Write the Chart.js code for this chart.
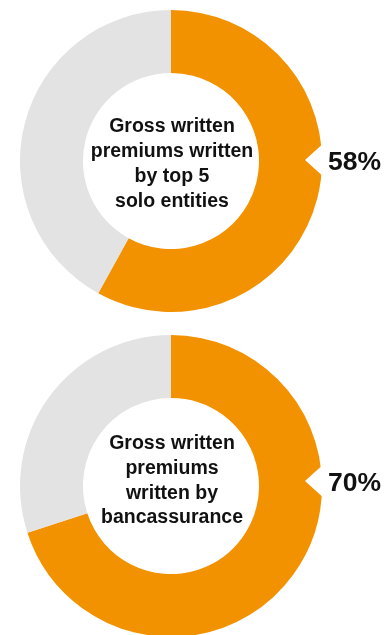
<!DOCTYPE html>
<html>
<head>
<meta charset="utf-8">
<script src="https://cdn.jsdelivr.net/npm/chart.js@4/dist/chart.umd.min.js"></script>
<style>
  html, body { margin: 0; padding: 0; background: #ffffff; width: 385px; height: 635px; overflow: hidden; }
  .wrap { position: absolute; left: 0; width: 385px; }
  #wrapTop { top: 0; height: 320px; }
  #wrapBottom { top: 320px; height: 330px; }
</style>
</head>
<body>
<div class="wrap" id="wrapTop"><canvas id="chartTop" width="385" height="320"></canvas></div>
<div class="wrap" id="wrapBottom"><canvas id="chartBottom" width="385" height="330"></canvas></div>
<script>
// Shares of gross written premiums
const segmentLabels = ['Share', 'Remainder'];
const topValues = [58, 42];
const topCaption = ['Gross written', 'premiums written', 'by top 5', 'solo entities'];
const bottomValues = [70, 30];
const bottomCaption = ['Gross written', 'premiums', 'written by', 'bancassurance'];
const segmentColors = ['#F39200', '#E3E3E3'];

const FONT = '"Liberation Sans", Arial, Helvetica, sans-serif';

// Caption inside the hole, a notch cut into the ring and the percentage beside it
const donutNotes = {
  id: 'donutNotes',
  afterDraw(chart, args, opts) {
    const arc = chart.getDatasetMeta(0).data[0];
    if (!arc) return;
    const { x, y, outerRadius } = arc;
    const ctx = chart.ctx;
    ctx.save();

    // caption lines
    ctx.fillStyle = '#111111';
    ctx.font = 'bold 19.5px ' + FONT;
    ctx.textAlign = 'center';
    ctx.textBaseline = 'alphabetic';
    const lines = opts.lines || [];
    lines.forEach((line, i) => {
      ctx.fillText(line, x + 1, y + opts.firstBaseline + i * opts.lineGap);
    });

    // notch
    const ny = y + opts.calloutDy;
    ctx.fillStyle = '#ffffff';
    ctx.beginPath();
    ctx.moveTo(x + outerRadius - 17, ny);
    ctx.lineTo(x + outerRadius + 4, ny - 19);
    ctx.lineTo(x + outerRadius + 4, ny + 19);
    ctx.closePath();
    ctx.fill();

    // percentage
    const value = chart.data.datasets[0].data[0];
    ctx.fillStyle = '#111111';
    ctx.font = 'bold 26.5px ' + FONT;
    ctx.textAlign = 'left';
    ctx.fillText(value + '%', x + outerRadius + 6, ny + 9.5);
    ctx.restore();
  }
};

function makeDonut(canvasId, values, caption, padding, notes) {
  return new Chart(document.getElementById(canvasId), {
    type: 'doughnut',
    data: {
      labels: segmentLabels,
      datasets: [{
        data: values,
        backgroundColor: segmentColors,
        borderWidth: 0,
        hoverOffset: 0
      }]
    },
    options: {
      responsive: false,
      animation: false,
      events: [],
      cutout: '58.3%',
      layout: { padding: padding },
      plugins: {
        legend: { display: false },
        tooltip: { enabled: false },
        donutNotes: Object.assign({ lines: caption }, notes)
      }
    },
    plugins: [donutNotes]
  });
}

makeDonut('chartTop', topValues, topCaption,
  { left: 20, right: 63, top: 10, bottom: 8 },
  { firstBaseline: -29.3, lineGap: 25, calloutDy: -1 });

makeDonut('chartBottom', bottomValues, bottomCaption,
  { left: 20, right: 63, top: 15, bottom: 13 },
  { firstBaseline: -36.7, lineGap: 24.7, calloutDy: -5 });
</script>
</body>
</html>
